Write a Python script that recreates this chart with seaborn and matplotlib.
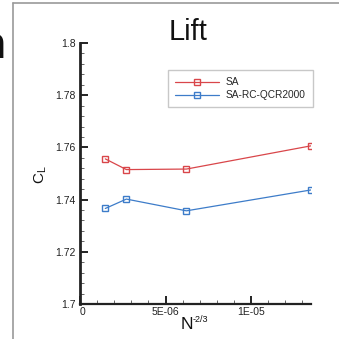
import matplotlib
matplotlib.use("Agg")
import matplotlib.pyplot as plt
from matplotlib.lines import Line2D
from matplotlib.ticker import MultipleLocator, FixedFormatter, FixedLocator
import numpy as np
import pandas as pd
import seaborn as sns

# Grid refinement study: lift coefficient vs. N^(-2/3)
grid_h = [1.48e-6, 2.71e-6, 6.22e-6, 1.35e-5]
cl_sa = [1.7556, 1.7515, 1.7517, 1.7606]
cl_qcr = [1.7366, 1.7402, 1.7357, 1.7437]
models = ["SA", "SA-RC-QCR2000"]
colors = ["#d9464a", "#3d7cc9"]
yticks = [1.7, 1.72, 1.74, 1.76, 1.78, 1.8]
ytick_labels = ["1.7", "1.72", "1.74", "1.76", "1.78", "1.8"]
xticks = [0, 5e-6, 1e-5]
xtick_labels = ["0", "5E-06", "1E-05"]

df = pd.DataFrame({
    "h": grid_h * 2,
    "cl": cl_sa + cl_qcr,
    "model": [models[0]] * len(cl_sa) + [models[1]] * len(cl_qcr),
})

sns.set_theme(style="white")
plt.rcParams["font.family"] = ["Liberation Sans", "DejaVu Sans"]

W = H = 339
fig = plt.figure(figsize=(W / 100, H / 100), dpi=100)
fig.patch.set_facecolor("white")

def fx(px):
    return px / W

def fy(py):
    return 1 - py / H

ax = fig.add_axes([fx(80), fy(304), fx(311) - fx(80), fy(43) - fy(304)])

sns.lineplot(data=df, x="h", y="cl", hue="model", style="model",
             palette=colors, markers=["s", "s"], dashes=False,
             linewidth=0.9, markersize=5, legend=False, ax=ax)
for ln, c in zip(ax.lines, colors):
    ln.set_color(c)
    ln.set_markerfacecolor("none")
    ln.set_markeredgecolor(c)
    ln.set_markeredgewidth(1.0)

ax.set_xlim(0, 1.35e-5)
ax.set_ylim(1.7, 1.8)
ax.set_xlabel("")
ax.set_ylabel("")

for side in ["top", "right"]:
    ax.spines[side].set_visible(False)
ax.spines["left"].set_linewidth(2.0)
ax.spines["bottom"].set_linewidth(1.6)
ax.spines["left"].set_color("#222222")
ax.spines["bottom"].set_color("#222222")

ax.yaxis.set_major_locator(FixedLocator(yticks))
ax.yaxis.set_major_formatter(FixedFormatter(ytick_labels))
ax.yaxis.set_minor_locator(MultipleLocator(0.004))
ax.xaxis.set_major_locator(FixedLocator(xticks))
ax.xaxis.set_major_formatter(FixedFormatter(xtick_labels))
ax.xaxis.set_minor_locator(MultipleLocator(1e-6))

ax.tick_params(axis="both", which="both", left=True, bottom=True,
               top=False, right=False)
ax.tick_params(axis="both", which="major", direction="in", length=6, width=1.4,
               color="#222222", labelsize=7.5, labelcolor="#222222", pad=3)
ax.tick_params(axis="both", which="minor", direction="in", length=3, width=0.7,
               color="#666666")
ax.tick_params(axis="x", which="major", pad=2)
for lbl in ax.get_xticklabels():
    if lbl.get_text() == "0":
        lbl.set_horizontalalignment("left")

handles = [Line2D([], [], color=c, lw=0.9, marker="s", markersize=5,
                  markerfacecolor="none", markeredgecolor=c) for c in colors]
leg = ax.legend(handles, models, loc="upper left",
                bbox_to_anchor=((168 - 80) / (311 - 80), 1 - (70 - 43) / (304 - 43)),
                fontsize=7.3, frameon=True, fancybox=False, handlelength=4.3,
                handletextpad=0.7, borderpad=0.7, labelspacing=0.3,
                borderaxespad=0)
leg.get_frame().set_edgecolor("#bbbbbb")
leg.get_frame().set_linewidth(1.0)

# Titles and axis labels
fig.text(fx(188), fy(40), "Lift", fontsize=21, ha="center", va="baseline",
         color="#111111")
fig.text(fx(41), fy(175), r"C$_\mathregular{L}$", rotation=90, fontsize=11,
         ha="center", va="center", color="#111111")
fig.text(fx(181), fy(329), "N", fontsize=12.5, ha="left", va="baseline",
         color="#111111")
fig.text(fx(193), fy(322), "-2/3", fontsize=6.5, ha="left", va="baseline",
         color="#111111")

# Partial neighbouring title and panel border
fig.text(fx(6), fy(58), "n", fontsize=32, ha="right", va="baseline",
         color="#111111", fontweight="bold")
fig.add_artist(Line2D([fx(13), fx(13)], [fy(3), 0], color="#9a9a9a", lw=1.2))
fig.add_artist(Line2D([fx(13), 1], [fy(3), fy(3)], color="#9a9a9a", lw=1.2))

fig.savefig("out.png", dpi=100)
